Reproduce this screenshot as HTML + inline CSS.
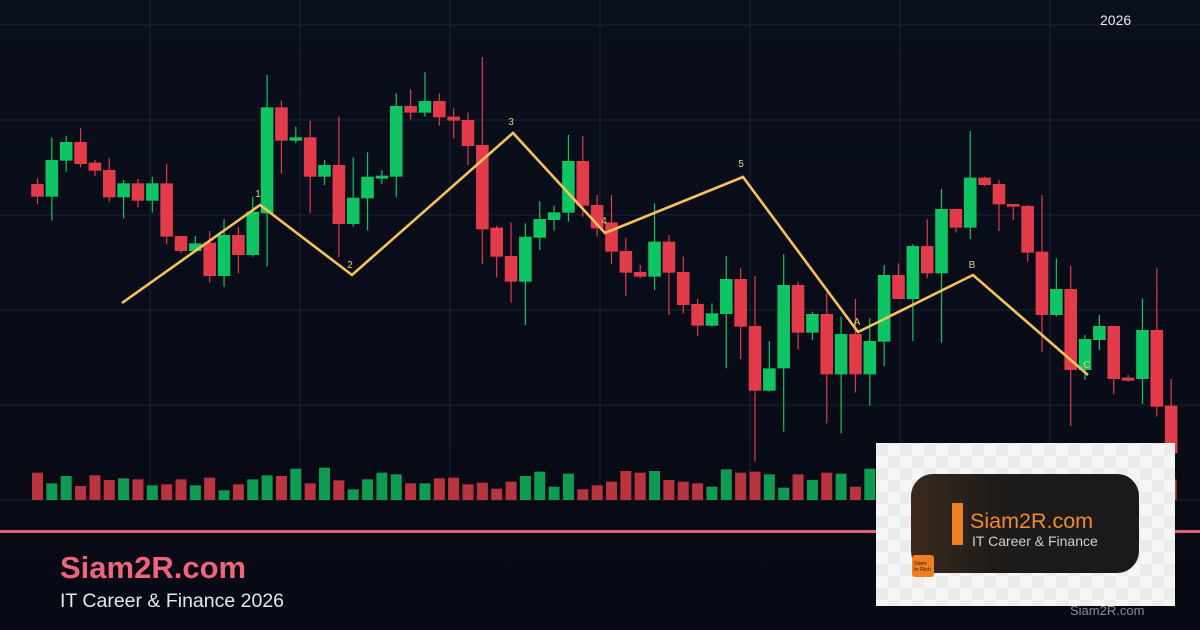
<!DOCTYPE html>
<html><head><meta charset="utf-8"><style>
html,body{margin:0;padding:0;background:#0a0e1a;}
body{width:1200px;height:630px;overflow:hidden;position:relative;font-family:"Liberation Sans",sans-serif;}
svg{position:absolute;left:0;top:0}
</style></head><body>
<svg id="s" width="1200" height="630" xmlns="http://www.w3.org/2000/svg">
<defs>
<linearGradient id="bg" x1="0" y1="0" x2="0" y2="1"><stop offset="0" stop-color="#0a0f1d"/><stop offset="1" stop-color="#070a14"/></linearGradient>
<pattern id="chk" width="24" height="24" patternUnits="userSpaceOnUse"><rect width="24" height="24" fill="#f6f6f6"/><rect width="12" height="12" fill="#ececec"/><rect x="12" y="12" width="12" height="12" fill="#ececec"/></pattern>
<linearGradient id="lg" x1="0" y1="0" x2="1" y2="0"><stop offset="0" stop-color="#3a2a1c"/><stop offset="0.35" stop-color="#1f1c1a"/><stop offset="1" stop-color="#1a1a1a"/></linearGradient>
</defs>
<rect width="1200" height="630" fill="url(#bg)"/>
<g id="grid" stroke="#1c2334" stroke-width="1"></g>
<g id="vol"></g>
<g id="cdl"></g>
<polyline points="122,303 260,205 352,275 513,133 605,233 743,177 858,332 973,275 1088,375" fill="none" stroke="#f7c15c" stroke-width="2.6" stroke-linejoin="miter"/>
<g font-size="10" fill="#e8c77a" text-anchor="middle">
<text x="258" y="197">1</text><text x="350" y="268">2</text><text x="511" y="125">3</text><text x="604" y="224">4</text><text x="741" y="167">5</text><text x="857" y="325">A</text><text x="972" y="268">B</text><text x="1087" y="368">C</text>
</g>
<rect x="0" y="530" width="1200" height="3" fill="#e0607a"/>
<text x="60" y="578" font-size="31" font-weight="bold" fill="#f0647e">Siam2R.com</text>
<text x="60" y="607" font-size="19.5" fill="#e6e6ea">IT Career &amp; Finance 2026</text>
<text x="1100" y="25" font-size="14" fill="#e8e8ec">2026</text>
<rect x="876" y="443" width="299" height="163" fill="url(#chk)"/>
<rect x="911" y="474" width="228" height="99" rx="22" fill="url(#lg)"/>
<rect x="952" y="503" width="11" height="42" fill="#f07f22"/>
<text x="970" y="528" font-size="21.5" fill="#f08a2c">Siam2R.com</text>
<text x="972" y="546" font-size="14" fill="#d0d0d0">IT Career &amp; Finance</text>
<rect x="912" y="555" width="22" height="22" rx="3" fill="#f07f22"/>
<text x="914" y="565" font-size="5.5" fill="#2a1a0a">Siam</text><text x="914" y="571" font-size="5.5" fill="#2a1a0a">to Rich</text>
<text x="1070" y="615" font-size="13" fill="#8a8d96">Siam2R.com</text>
</svg>
<script>
var NS="http://www.w3.org/2000/svg";
function el(p,t,a){var e=document.createElementNS(NS,t);for(var k in a)e.setAttribute(k,a[k]);p.appendChild(e);return e;}
var g=document.getElementById('grid');
[25,120,215,310,405,500].forEach(function(y){el(g,'line',{x1:0,x2:1200,y1:y,y2:y});});
[150,300,450,600,750,900,1050].forEach(function(x){el(g,'line',{x1:x,x2:x,y1:0,y2:500});});
var z1=[[372,410,355,432,'r'],[300,410,232,482,'g'],[246,302,228,335,'g'],[246,312,205,322,'r'],[308,332,300,348,'r'],[330,412,295,425,'r'],[370,412,360,475,'g'],[370,422,357,442,'r'],[370,422,350,458,'g'],[370,530,312,553,'r'],[528,573,528,580,'r'],[550,573,528,575,'g'],[548,648,513,668,'r'],[525,648,478,680,'g'],[525,585,500,640,'r'],[455,585,410,590,'g'],[142,460,45,620,'g'],[142,242,122,340,'r'],[232,242,200,250,'g'],[232,350,183,460,'r'],[315,350,300,375,'g'],[315,492,170,592,'r'],[413,492,292,500,'g'],[350,415,277,512,'g'],[347,356,330,372,'g'],[138,350,100,412,'g'],[138,158,88,178,'r'],[123,158,37,170,'g'],[123,172,100,197,'r'],[170,182,145,235,'r'],[180,258,158,315,'r'],[255,508,-9,612,'r'],[503,590,498,652,'r'],[588,665,488,728,'r'],[530,665,490,795,'g'],[477,533,423,570,'g'],[457,480,437,512,'g'],[303,458,225,485,'g'],[303,437,228,470,'r'],[435,505,405,530,'r'],
[487,575,405,613,'r'],[573,638,533,708,'r'],[636,650,615,655,'r'],[545,650,430,690,'g'],[545,638,525,765,'r'],[636,735,590,760,'r'],[732,797,717,828,'r'],[760,797,730,800,'g'],[657,762,588,925,'g'],[657,800,625,897,'r'],[798,992,648,1205,'r'],[925,992,843,995,'g'],[675,925,583,1115,'g'],[675,818,665,868,'r'],[762,818,755,840,'g'],[762,943,700,1090,'r'],[822,943,770,1120,'g'],[822,943,717,998,'r'],[843,943,775,1037,'g'],[645,845,615,918,'g'],[645,717,610,717,'r'],[558,717,553,843,'g'],[558,640,478,655,'r'],[447,640,387,848,'g'],[447,503,447,518,'r'],[353,503,213,537,'g'],[353,375,350,378,'r'],[372,433,360,513,'r'],[432,440,432,480,'r'],[438,578,435,605,'r'],[575,765,405,877,'r'],[687,765,595,770,'g'],[687,930,618,1098,'r'],[837,930,825,960,'g'],[798,840,765,870,'g'],[798,957,798,1003,'r'],[953,962,945,965,'r'],[810,957,715,1032,'g'],[810,1040,625,1070,'r'],[1037,1180,957,1240,'r']];
var c=document.getElementById('cdl');
z1.forEach(function(d,i){var x=37.5+14.35*i;var col=d[4]=='g'?'#0fc463':'#e23b4a';
var y=function(v){return 60+v/3;};
el(c,'line',{x1:x,x2:x,y1:y(d[2]),y2:y(d[3]),stroke:col,'stroke-width':1.2});
var t=y(d[0]),b=y(d[1]);if(b-t<2)b=t+2;
el(c,'rect',{x:x-6.3,y:t,width:12.6,height:b-t,fill:col});});
var vt=[1240,1272,1250,1280,1248,1262,1257,1260,1278,1275,1260,1278,1255,1293,1275,1260,1248,1250,1228,1272,1225,1263,1290,1260,1240,1245,1272,1272,1257,1255,1275,1270,1288,1267,1250,1237,1282,1243,1290,1278,1267,1235,1240,1235,1262,1267,1272,1282,1230,1240,1237,1245,1285,1245,1262,1240,1243,1282,1228,1250,1260,1245,1255,1235,1270,1250,1240,1260,1250,1245,1265,1240,1250,1260,1245,1250,1255,1245,1240,1260];
var vc="rggrrrgrgrrgrgrggrgrgrggggrgrrrrrrggggrrrrrgrrrggrrggrgrgrgrgrgrrgrrgrrgrrgrgrr";
var v=document.getElementById('vol');
vt.forEach(function(t,i){var x=37.5+14.35*i;var h=(1322-t)/3;
el(v,'rect',{x:x-5.5,y:500-h,width:11,height:h,fill:vc[i]=='g'?'#119a52':'#b8343f'});});
</script>
</body></html>
